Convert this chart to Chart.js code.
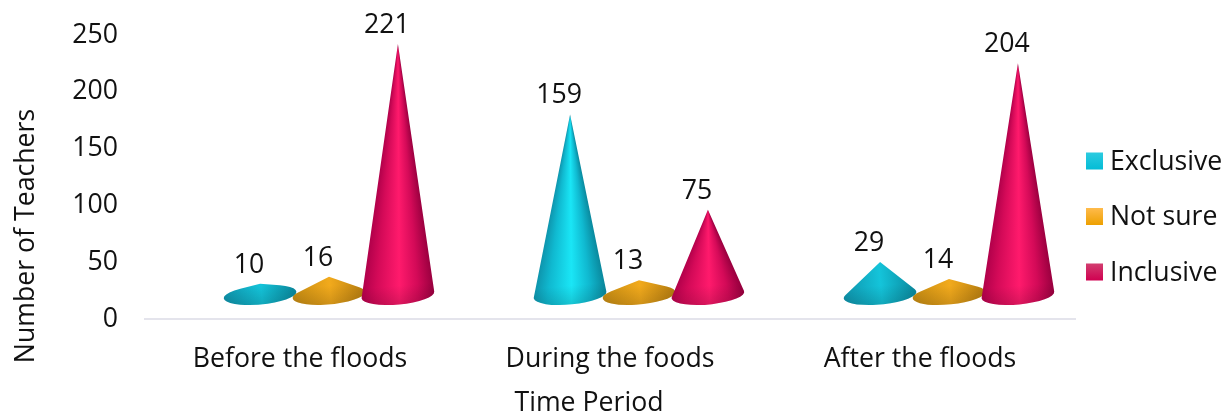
<!DOCTYPE html>
<html>
<head>
<meta charset="utf-8">
<title>Number of Teachers</title>
<script src="https://cdn.jsdelivr.net/npm/chart.js@4"></script>
<style>
    html, body { margin: 0; padding: 0; background: #fff; }
    #wrap { width: 1231px; height: 415px; }
</style>
</head>
<body>
<div id="wrap"><canvas id="myChart"></canvas></div>
<script>
const categories = ['Before the floods', 'During the foods', 'After the floods'];
const exclusive = [10, 159, 29];
const notSure = [16, 13, 14];
const inclusive = [221, 75, 204];
const yTicks = [0, 50, 100, 150, 200, 250];

const FONT = '"Open Sans", sans-serif';
const FONT_SIZE = 26.67;
const TEXT = '#111111';

// the cones sit on a floor that is shifted back from the axis line
const DEPTH_X = 29;
const DEPTH_Y = -24;
const BASE_RY = 9.5;
const BASE_TILT = -0.09;

const shades = {
    Exclusive: { edgeL: '#0e93ab', side: '#10b9d0', mid: '#1ae6f6', flat: '#14c4da', edgeR: '#0a8a9f', top: '#2ccbe0', bottom: '#04bcd6' },
    'Not sure': { edgeL: '#c48a12', side: '#e9a215', mid: '#ffb41e', flat: '#f2aa1c', edgeR: '#b97f10', top: '#ffbb4c', bottom: '#eda000' },
    Inclusive: { edgeL: '#b0004a', side: '#d40a58', mid: '#ff1a6c', flat: '#e8105f', edgeR: '#9c0040', top: '#d23e70', bottom: '#d00050' }
};

function drawCone(ctx, cx, tipY, baseY, rx, c) {
    const h = baseY - tipY;
    ctx.save();
    ctx.translate(cx, baseY);
    ctx.rotate(BASE_TILT);

    // apex in the tilted frame, then tangents to the base ellipse
    const px = -h * Math.sin(BASE_TILT);
    const py = -h * Math.cos(BASE_TILT);
    const sy = rx / BASE_RY;
    const d = Math.hypot(px, py * sy);

    ctx.beginPath();
    if (d > rx) {
        const phi = Math.atan2(py * sy, px);
        const delta = Math.acos(rx / d);
        ctx.moveTo(px, py);
        ctx.ellipse(0, 0, rx, BASE_RY, 0, phi + delta, phi - delta + Math.PI * 2);
    } else {
        ctx.ellipse(0, 0, rx, BASE_RY, 0, 0, Math.PI * 2);
    }
    ctx.closePath();

    let grad;
    if (h > rx) {
        // tall cones: shading runs along the generators and narrows towards the apex
        const stops = [[0, c.edgeL], [0.2, c.side], [0.52, c.mid], [0.78, c.side], [1, c.edgeR]];
        const axis = Math.atan2(-py, -px);
        const tanEdge = rx / h;
        grad = ctx.createConicGradient(0, px, py);
        stops.forEach(([u, colour]) => {
            const theta = Math.atan((2 * u - 1) * tanEdge);
            grad.addColorStop((axis - theta) / (Math.PI * 2), colour);
        });
    } else {
        // flat cones would show a hard ridge that way, so shade them straight across
        const stops = [[0, c.edgeL], [0.52, c.flat], [1, c.edgeR]];
        grad = ctx.createLinearGradient(-rx, 0, rx, 0);
        stops.forEach(([u, colour]) => grad.addColorStop(u, colour));
    }
    ctx.fillStyle = grad;
    ctx.fill();

    // a little darker along the front rim
    const rim = ctx.createLinearGradient(0, -BASE_RY, 0, BASE_RY);
    rim.addColorStop(0, 'rgba(0,0,0,0)');
    rim.addColorStop(1, 'rgba(0,0,0,0.14)');
    ctx.fillStyle = rim;
    ctx.fill();
    ctx.restore();
}

const conePlugin = {
    id: 'cones',
    afterDatasetsDraw(chart) {
        const ctx = chart.ctx;
        chart.data.datasets.forEach((ds, i) => {
            const c = shades[ds.label];
            chart.getDatasetMeta(i).data.forEach((bar) => {
                drawCone(ctx, bar.x + DEPTH_X, bar.y + DEPTH_Y, bar.base + DEPTH_Y, bar.width / 2 + 2, c);
            });
        });
        // value labels, up and to the left of each tip
        ctx.save();
        ctx.font = FONT_SIZE + 'px ' + FONT;
        ctx.fillStyle = TEXT;
        ctx.textAlign = 'center';
        ctx.textBaseline = 'middle';
        chart.data.datasets.forEach((ds, i) => {
            chart.getDatasetMeta(i).data.forEach((bar, j) => {
                ctx.fillText(String(ds.data[j]), bar.x + 18, bar.y + DEPTH_Y - 18.5);
            });
        });
        ctx.restore();
    },
    afterDraw(chart) {
        const ctx = chart.ctx;
        ctx.save();
        ctx.font = FONT_SIZE + 'px ' + FONT;
        ctx.fillStyle = TEXT;
        ctx.textBaseline = 'middle';

        // legend column to the right of the plot
        chart.data.datasets.forEach((ds, i) => {
            const c = shades[ds.label];
            const y = 161 + i * 55.5;
            const grad = ctx.createLinearGradient(0, y - 8.5, 0, y + 8.5);
            grad.addColorStop(0, c.top);
            grad.addColorStop(1, c.bottom);
            ctx.fillStyle = grad;
            ctx.fillRect(1086, y - 8.5, 17, 17);
            ctx.fillStyle = TEXT;
            ctx.textAlign = 'left';
            ctx.fillText(ds.label, 1110, y + 1);
        });

        // axis titles are centred on the whole drawing, not on the plot area
        ctx.textAlign = 'center';
        ctx.fillText('Time Period', 589, 403);
        ctx.translate(26, 236);
        ctx.rotate(-Math.PI / 2);
        ctx.fillText('Number of Teachers', 0, 0);
        ctx.restore();
    }
};

function loadChart() {
    const ctx = document.getElementById('myChart');

    new Chart(ctx, {
        type: 'bar',
        data: {
            labels: categories,
            datasets: [
                { label: 'Exclusive', data: exclusive, backgroundColor: 'transparent' },
                { label: 'Not sure', data: notSure, backgroundColor: 'transparent' },
                { label: 'Inclusive', data: inclusive, backgroundColor: 'transparent' }
            ]
        },
        options: {
            responsive: true,
            maintainAspectRatio: false,
            animation: false,
            categoryPercentage: 0.667,
            barPercentage: 1,
            layout: {
                padding: { top: 10, right: 156, bottom: 0, left: 0 }
            },
            plugins: {
                tooltip: { enabled: false },
                legend: { display: false }
            },
            scales: {
                x: {
                    afterFit(scale) { scale.height = 96; },
                    grid: { display: false },
                    border: { color: '#e4e4ec', width: 2 },
                    ticks: {
                        color: TEXT,
                        padding: 16,
                        maxRotation: 0,
                        font: { family: FONT, size: FONT_SIZE }
                    }
                },
                y: {
                    min: 0,
                    max: 250,
                    afterFit(scale) { scale.width = 145; },
                    afterBuildTicks(scale) { scale.ticks = yTicks.map((v) => ({ value: v })); },
                    grid: { display: false },
                    border: { display: false },
                    ticks: {
                        color: TEXT,
                        padding: 19,
                        font: { family: FONT, size: FONT_SIZE }
                    }
                }
            }
        },
        plugins: [conePlugin]
    });
}

loadChart();
</script>
</body>
</html>
